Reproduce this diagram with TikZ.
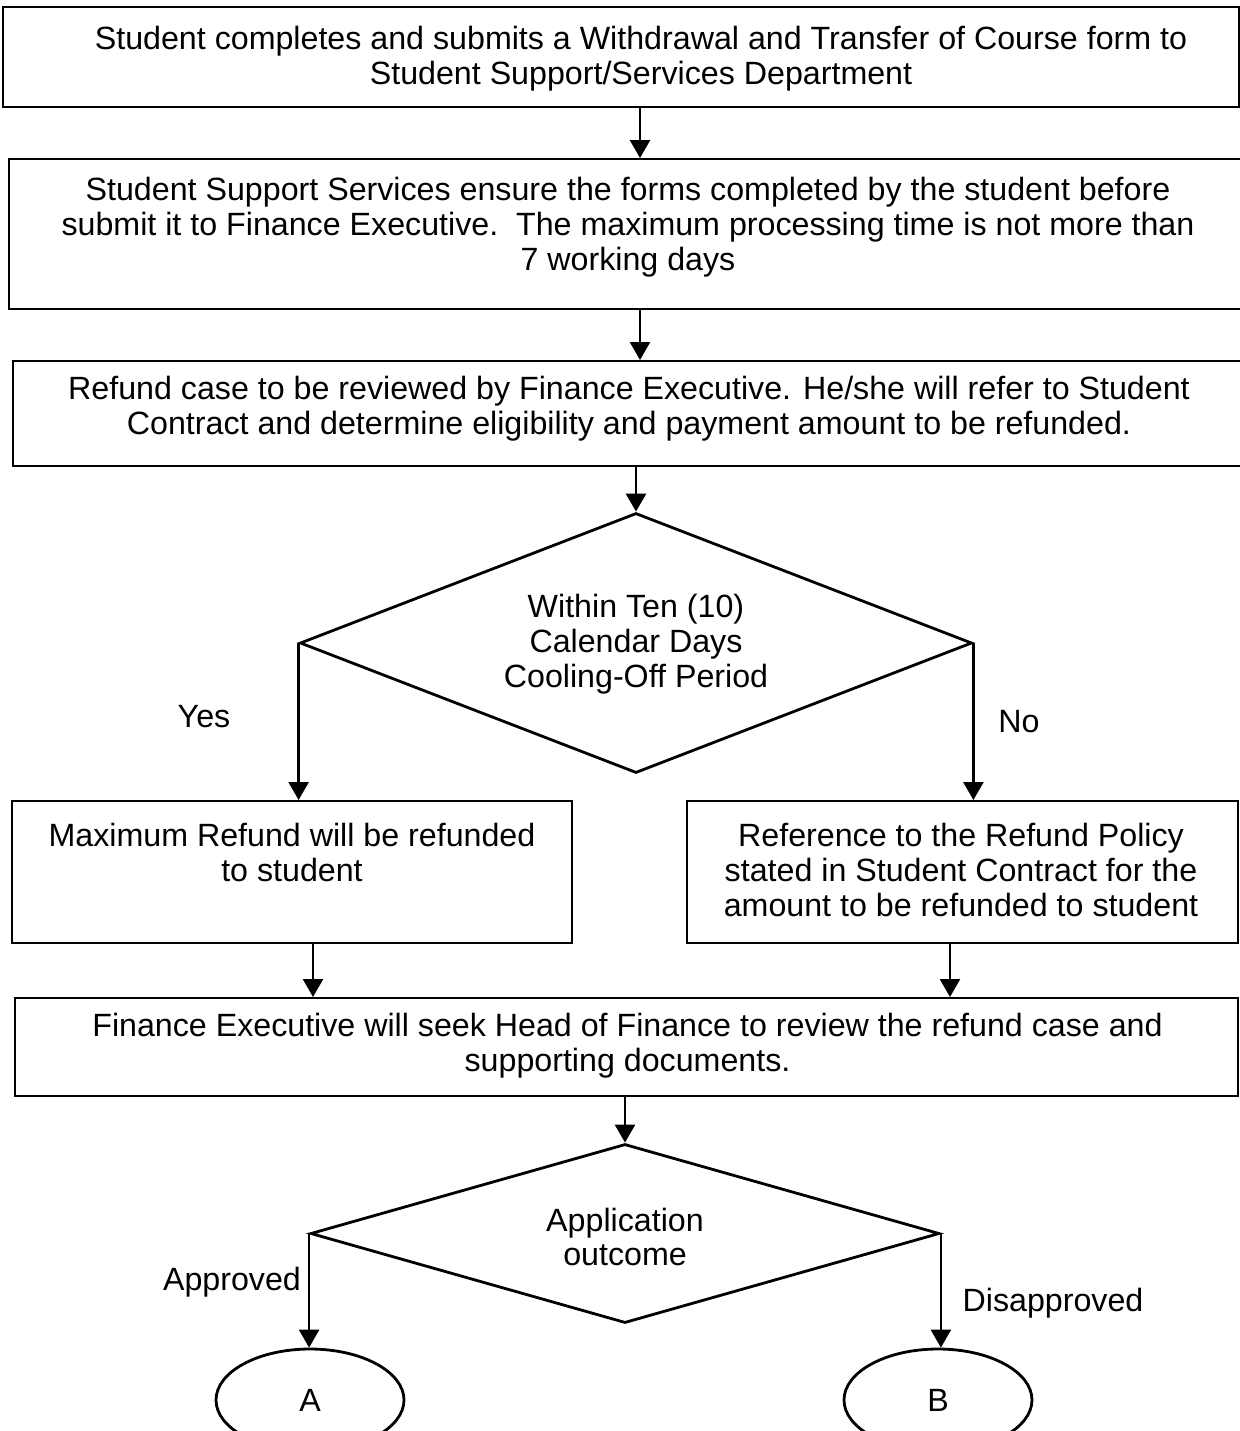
\documentclass[tikz,border=0pt]{standalone}
\usepackage{fontspec}
\setmainfont{Liberation Sans}
\usetikzlibrary{shapes.geometric,arrows.meta}
\begin{document}
\begin{tikzpicture}[x=0.5pt,y=-0.5pt,
  every node/.style={font=\fontsize{16.1pt}{17.4pt}\selectfont},
  box/.style={draw,line width=1pt,rectangle,inner sep=0pt},
  txt/.style={align=center,inner sep=0pt},
  decision/.style={draw,line width=1.4pt,diamond,inner sep=0pt},
  term/.style={draw,line width=1.4pt,ellipse,inner sep=0pt},
  arr/.style={line width=1.3pt,-{Triangle[width=10pt,length=9pt]}},
  lbl/.style={inner sep=0pt}]
\useasboundingbox (0,0) rectangle (1240,1431);

% process boxes
\node[box,minimum width=618pt,minimum height=50pt] (b1) at (621,57) {};
\node[box,minimum width=620.5pt,minimum height=75pt] (b2) at (629.5,234) {};
\node[box,minimum width=618.5pt,minimum height=52.5pt] (b3) at (631.5,413.5) {};
\node[box,minimum width=280pt,minimum height=71pt] (bL) at (292,872) {};
\node[box,minimum width=275.5pt,minimum height=71pt] (bR) at (962.5,872) {};
\node[box,minimum width=611.5pt,minimum height=49pt] (b4) at (626.5,1047) {};

% box texts
\node[txt] (t1) at (641,58.5) {Student completes and submits a Withdrawal and Transfer of Course form to\\Student Support/Services Department};
\node[txt] (t2) at (628,227) {Student Support Services ensure the forms completed by the student before\\submit it to Finance Executive.\ \ The maximum processing time is not more than\\7 working days};
\node[txt] (t3) at (629,409) {Refund case to be reviewed by Finance Executive. He/she will refer to Student\\Contract and determine eligibility and payment amount to be refunded.};
\node[txt] (tL) at (292,852.5) {Maximum Refund will be refunded\\to student};
\node[txt] (tR) at (961,870) {Reference to the Refund Policy\\stated in Student Contract for the\\amount to be refunded to student};
\node[txt] (t4) at (627.5,1045.5) {Finance Executive will seek Head of Finance to review the refund case and\\supporting documents.};

% decisions
\node[decision,minimum width=336pt,minimum height=130pt] (d1) at (636,643) {};
\node[txt] (td1) at (636,644) {Within Ten (10)\\Calendar Days\\Cooling-Off Period};
\node[decision,minimum width=314.5pt,minimum height=89.5pt] (d2) at (625,1233.5) {};
\node[txt] (td2) at (625,1237) {Application\\outcome};

% connectors
\node[term,minimum width=94pt,minimum height=51pt] (eA) at (310,1400) {A};
\node[term,minimum width=94pt,minimum height=51pt] (eB) at (938,1400) {B};

% arrows
\draw[arr] ([xshift=9.5pt]b1.south) -- ([xshift=9.5pt]b1.south |- b2.north);
\draw[arr] ([xshift=5.25pt]b2.south) -- ([xshift=5.25pt]b2.south |- b3.north);
\draw[arr] (b3.south -| d1.north) -- (d1.north);
\draw[arr] (d1.west) -- (d1.west |- bL.north);
\draw[arr] (d1.east) -- (d1.east |- bR.north);
\draw[arr] ([xshift=10.5pt]bL.south) -- ([xshift=10.5pt]bL.south |- b4.north);
\draw[arr] ([xshift=-6.25pt]bR.south) -- ([xshift=-6.25pt]bR.south |- b4.north);
\draw[arr] (b4.south -| d2.north) -- (d2.north);
\draw[arr] (d2.west) -- (d2.west |- eA.north);
\draw[arr] (d2.east) -- (d2.east |- eB.north);

% branch labels
\node[lbl] (yes) at (204,717) {Yes};
\node[lbl] (no) at (1019,722) {No};
\node[lbl] (ok) at (232,1282) {Approved};
\node[lbl] (nok) at (1053,1303) {Disapproved};
\end{tikzpicture}
\end{document}
